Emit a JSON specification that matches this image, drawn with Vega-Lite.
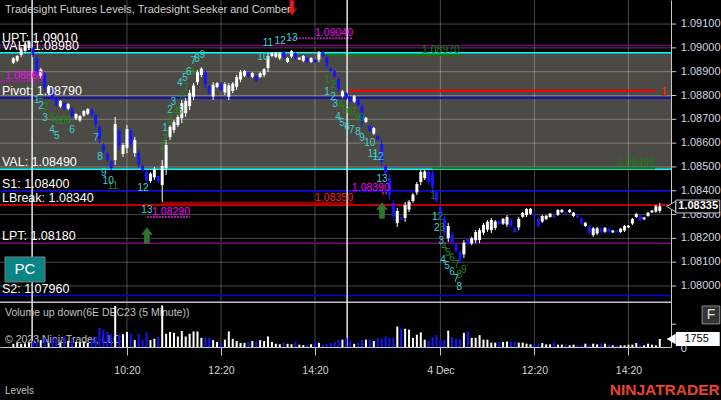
{
"$schema": "https://vega.github.io/schema/vega-lite/v6.json",
"width": 671, "height": 347,
"autosize": {"type": "none"},
"padding": {"left": 0, "top": 0, "right": 50, "bottom": 53},
"background": "#000000",
"config": {"view": {"stroke": null}, "font": "Liberation Sans", "axis": {"grid": false}},
"datasets": {
"va": [{"hi": 1.0898, "lo": 1.0849}],
"vgrid": [{"i": 32}, {"i": 56}, {"i": 80}, {"i": 112}, {"i": 136}, {"i": 160}],
"hgrid": [{"p": 1.08}, {"p": 1.081}, {"p": 1.082}, {"p": 1.083}, {"p": 1.084}, {"p": 1.085}, {"p": 1.086}, {"p": 1.087}, {"p": 1.088}, {"p": 1.089}, {"p": 1.09}, {"p": 1.091}],
"vlines": [{"i": 7.8}, {"i": 88.2}],
"levels": [
{"n": "UPT", "p": 1.0901, "t": "UPT: 1.09010"},
{"n": "VAH", "p": 1.0898, "t": "VAH: 1.08980"},
{"n": "Pivot", "p": 1.0879, "t": "Pivot: 1.08790"},
{"n": "VAL", "p": 1.0849, "t": "VAL: 1.08490"},
{"n": "S1", "p": 1.084, "t": "S1: 1.08400"},
{"n": "LBreak", "p": 1.0834, "t": "LBreak: 1.08340"},
{"n": "LPT", "p": 1.0818, "t": "LPT: 1.08180"},
{"n": "S2", "p": 1.0796, "t": "S2: 1.07960"}],
"segs": [
{"k": "red", "x1": 88.7, "x2": 166.8, "p": 1.0882, "t": ""},
{"k": "dred", "x1": 41, "x2": 89.7, "p": 1.0835, "t": "1.08350"},
{"k": "green", "x1": 82, "x2": 117, "p": 1.0897, "t": "1.08970"},
{"k": "green", "x1": 109.9, "x2": 166.8, "p": 1.08495, "t": "1.08495"},
{"k": "mag", "x1": 37.1, "x2": 48.1, "p": 1.0829, "t": "1.08290"},
{"k": "mag", "x1": 73.6, "x2": 89.7, "p": 1.0904, "t": "1.09040"},
{"k": "mag", "x1": 97.1, "x2": 99.1, "p": 1.0839, "t": "1.08390"},
{"k": "mag", "x1": -0.4, "x2": 10.6, "p": 1.0886, "t": "1.08860"}],
"cnt": [
{"i":9.8,"p":1.08798,"t":"1","k":"g"},{"i":11.3,"p":1.08752,"t":"2","k":"g"},{"i":13.1,"p":1.08705,"t":"5","k":"g"},{"i":14.4,"p":1.08693,"t":"6","k":"g"},{"i":15.7,"p":1.08693,"t":"8","k":"g"},{"i":17.0,"p":1.08697,"t":"9","k":"g"},{"i":28.4,"p":1.0842,"t":"11","k":"g"},
{"i":41.0,"p":1.08584,"t":"1","k":"g"},{"i":41.7,"p":1.08617,"t":"2","k":"g"},{"i":43.0,"p":1.08697,"t":"3","k":"g"},{"i":44.5,"p":1.08731,"t":"4","k":"g"},{"i":45.5,"p":1.08735,"t":"5","k":"g"},{"i":46.1,"p":1.08794,"t":"6","k":"g"},{"i":47.1,"p":1.08831,"t":"7","k":"g"},{"i":48.6,"p":1.08898,"t":"8","k":"g"},
{"i":83.1,"p":1.08865,"t":"1","k":"g"},{"i":84.6,"p":1.08844,"t":"2","k":"g"},{"i":86.6,"p":1.0876,"t":"4","k":"g"},{"i":87.7,"p":1.08739,"t":"5","k":"g"},{"i":88.9,"p":1.08731,"t":"6","k":"g"},{"i":89.9,"p":1.08731,"t":"7","k":"g"},{"i":90.9,"p":1.08705,"t":"8","k":"g"},{"i":91.9,"p":1.08705,"t":"9","k":"g"},
{"i":110.1,"p":1.08378,"t":"1","k":"g"},{"i":111.9,"p":1.0829,"t":"2","k":"g"},{"i":112.4,"p":1.08244,"t":"3","k":"g"},{"i":112.9,"p":1.08164,"t":"4","k":"g"},{"i":113.9,"p":1.08139,"t":"5","k":"g"},{"i":115.0,"p":1.08118,"t":"6","k":"g"},{"i":116.2,"p":1.08088,"t":"7","k":"g"},{"i":116.8,"p":1.08046,"t":"8","k":"g"},{"i":118.0,"p":1.08067,"t":"9","k":"g"},
{"i":9.0,"p":1.08781,"t":"1","k":"s"},{"i":10.1,"p":1.08756,"t":"2","k":"s"},{"i":11.1,"p":1.08705,"t":"3","k":"s"},{"i":12.9,"p":1.08655,"t":"4","k":"s"},{"i":14.1,"p":1.0863,"t":"5","k":"s"},{"i":18.0,"p":1.08655,"t":"6","k":"s"},{"i":24.1,"p":1.08621,"t":"7","k":"s"},{"i":25.1,"p":1.08542,"t":"8","k":"s"},{"i":26.1,"p":1.08474,"t":"9","k":"s"},{"i":27.2,"p":1.08441,"t":"10","k":"s"},{"i":36.1,"p":1.08411,"t":"12","k":"s"},{"i":37.1,"p":1.08319,"t":"13","k":"s"},
{"i":41.7,"p":1.08663,"t":"1","k":"s"},{"i":43.0,"p":1.08739,"t":"2","k":"s"},{"i":43.8,"p":1.08772,"t":"3","k":"s"},{"i":45.5,"p":1.08852,"t":"4","k":"s"},{"i":46.8,"p":1.08873,"t":"5","k":"s"},{"i":47.8,"p":1.08898,"t":"6","k":"s"},{"i":48.9,"p":1.08945,"t":"7","k":"s"},{"i":49.9,"p":1.08953,"t":"8","k":"s"},{"i":51.2,"p":1.0897,"t":"9","k":"s"},{"i":66.7,"p":1.08961,"t":"10","k":"s"},{"i":68.0,"p":1.0902,"t":"11","k":"s"},{"i":71.1,"p":1.09029,"t":"12","k":"s"},{"i":74.1,"p":1.09041,"t":"13","k":"s"},
{"i":83.1,"p":1.08814,"t":"1","k":"s"},{"i":84.6,"p":1.08793,"t":"2","k":"s"},{"i":85.1,"p":1.08764,"t":"3","k":"s"},{"i":85.9,"p":1.0871,"t":"4","k":"s"},{"i":86.9,"p":1.08684,"t":"5","k":"s"},{"i":88.2,"p":1.08668,"t":"6","k":"s"},{"i":89.4,"p":1.08655,"t":"7","k":"s"},{"i":91.0,"p":1.08647,"t":"8","k":"s"},{"i":92.0,"p":1.08621,"t":"9","k":"s"},{"i":94.0,"p":1.086,"t":"10","k":"s"},{"i":94.8,"p":1.08554,"t":"11","k":"s"},{"i":96.1,"p":1.08542,"t":"12","k":"s"},{"i":97.1,"p":1.08449,"t":"13","k":"s"},
{"i":110.6,"p":1.0829,"t":"1","k":"s"},{"i":111.1,"p":1.08244,"t":"2","k":"s"},{"i":112.2,"p":1.08189,"t":"3","k":"s"},{"i":112.7,"p":1.08109,"t":"4","k":"s"},{"i":113.7,"p":1.08084,"t":"5","k":"s"},{"i":115.0,"p":1.08059,"t":"6","k":"s"},{"i":116.0,"p":1.08029,"t":"7","k":"s"},{"i":116.8,"p":1.07996,"t":"8","k":"s"}],
"bars": [
{"i":3,"o":1.08938,"h":1.08961,"l":1.08932,"c":1.08957,"v":700,"d":"u"},
{"i":4,"o":1.08946,"h":1.0897,"l":1.0894,"c":1.08966,"v":900,"d":"u"},
{"i":5,"o":1.0897,"h":1.09003,"l":1.08961,"c":1.08997,"v":700,"d":"u"},
{"i":6,"o":1.08987,"h":1.0902,"l":1.08978,"c":1.09014,"v":800,"d":"u"},
{"i":7,"o":1.08999,"h":1.09033,"l":1.08991,"c":1.09027,"v":900,"d":"u"},
{"i":8,"o":1.08997,"h":1.09003,"l":1.08961,"c":1.0897,"v":1300,"d":"d"},
{"i":9,"o":1.08957,"h":1.0897,"l":1.08886,"c":1.08898,"v":1100,"d":"d"},
{"i":10,"o":1.08882,"h":1.08915,"l":1.08873,"c":1.08909,"v":1500,"d":"u"},
{"i":11,"o":1.0889,"h":1.08898,"l":1.08814,"c":1.08831,"v":2000,"d":"d"},
{"i":12,"o":1.0881,"h":1.08844,"l":1.08802,"c":1.08838,"v":900,"d":"u"},
{"i":13,"o":1.08823,"h":1.08831,"l":1.08781,"c":1.08789,"v":2200,"d":"d"},
{"i":14,"o":1.08787,"h":1.08793,"l":1.08752,"c":1.0876,"v":1800,"d":"d"},
{"i":15,"o":1.08754,"h":1.08781,"l":1.08747,"c":1.08777,"v":1000,"d":"u"},
{"i":16,"o":1.08768,"h":1.08772,"l":1.08739,"c":1.08745,"v":2300,"d":"d"},
{"i":17,"o":1.08745,"h":1.08768,"l":1.08739,"c":1.08764,"v":1300,"d":"u"},
{"i":18,"o":1.08745,"h":1.08752,"l":1.08705,"c":1.08714,"v":1900,"d":"d"},
{"i":19,"o":1.08703,"h":1.08726,"l":1.08697,"c":1.08722,"v":1100,"d":"u"},
{"i":20,"o":1.08695,"h":1.08718,"l":1.08689,"c":1.08714,"v":1000,"d":"u"},
{"i":21,"o":1.08716,"h":1.08739,"l":1.0871,"c":1.08735,"v":1200,"d":"u"},
{"i":22,"o":1.08724,"h":1.08747,"l":1.08718,"c":1.08743,"v":900,"d":"u"},
{"i":23,"o":1.08741,"h":1.08747,"l":1.0871,"c":1.08718,"v":1600,"d":"d"},
{"i":24,"o":1.08718,"h":1.08726,"l":1.08668,"c":1.0868,"v":2200,"d":"d"},
{"i":25,"o":1.08668,"h":1.08676,"l":1.086,"c":1.08617,"v":4200,"d":"d"},
{"i":26,"o":1.08594,"h":1.086,"l":1.08558,"c":1.08567,"v":3700,"d":"d"},
{"i":27,"o":1.08556,"h":1.08563,"l":1.08521,"c":1.08529,"v":3300,"d":"d"},
{"i":28,"o":1.08523,"h":1.08529,"l":1.08487,"c":1.08495,"v":2800,"d":"d"},
{"i":29,"o":1.08529,"h":1.0871,"l":1.08508,"c":1.0868,"v":9000,"d":"u"},
{"i":30,"o":1.08651,"h":1.08663,"l":1.08571,"c":1.08588,"v":2800,"d":"d"},
{"i":31,"o":1.08554,"h":1.086,"l":1.08542,"c":1.08592,"v":2800,"d":"u"},
{"i":32,"o":1.08579,"h":1.08676,"l":1.08558,"c":1.08659,"v":3300,"d":"u"},
{"i":33,"o":1.08651,"h":1.08663,"l":1.08579,"c":1.08596,"v":2900,"d":"d"},
{"i":34,"o":1.08558,"h":1.08626,"l":1.08542,"c":1.08613,"v":1500,"d":"u"},
{"i":35,"o":1.0856,"h":1.08571,"l":1.08495,"c":1.08511,"v":2900,"d":"d"},
{"i":36,"o":1.08504,"h":1.08508,"l":1.08479,"c":1.08485,"v":1600,"d":"d"},
{"i":37,"o":1.08479,"h":1.08487,"l":1.08432,"c":1.08443,"v":3300,"d":"d"},
{"i":38,"o":1.08441,"h":1.08479,"l":1.08432,"c":1.08472,"v":1500,"d":"u"},
{"i":39,"o":1.08456,"h":1.085,"l":1.08445,"c":1.08491,"v":1800,"d":"u"},
{"i":40,"o":1.08462,"h":1.08466,"l":1.08432,"c":1.08439,"v":2200,"d":"d"},
{"i":41,"o":1.08424,"h":1.08529,"l":1.08353,"c":1.08504,"v":9100,"d":"u"},
{"i":42,"o":1.08495,"h":1.08613,"l":1.08466,"c":1.08592,"v":2900,"d":"u"},
{"i":43,"o":1.08626,"h":1.08676,"l":1.08613,"c":1.08668,"v":3300,"d":"u"},
{"i":44,"o":1.08655,"h":1.08697,"l":1.08642,"c":1.08689,"v":3100,"d":"u"},
{"i":45,"o":1.08676,"h":1.08718,"l":1.08668,"c":1.0871,"v":2300,"d":"u"},
{"i":46,"o":1.08705,"h":1.08781,"l":1.08684,"c":1.08768,"v":3500,"d":"u"},
{"i":47,"o":1.08726,"h":1.08789,"l":1.0871,"c":1.08777,"v":2300,"d":"u"},
{"i":48,"o":1.08756,"h":1.08823,"l":1.08739,"c":1.0881,"v":2900,"d":"u"},
{"i":49,"o":1.08795,"h":1.08852,"l":1.08781,"c":1.08842,"v":3400,"d":"u"},
{"i":50,"o":1.08856,"h":1.08907,"l":1.08844,"c":1.08898,"v":3400,"d":"u"},
{"i":51,"o":1.08886,"h":1.08919,"l":1.08877,"c":1.08913,"v":2000,"d":"u"},
{"i":52,"o":1.08896,"h":1.08907,"l":1.08831,"c":1.08847,"v":2000,"d":"d"},
{"i":53,"o":1.08838,"h":1.08844,"l":1.08802,"c":1.0881,"v":2000,"d":"d"},
{"i":54,"o":1.08796,"h":1.08856,"l":1.08781,"c":1.08845,"v":1500,"d":"u"},
{"i":55,"o":1.08836,"h":1.08856,"l":1.08831,"c":1.08852,"v":1100,"d":"u"},
{"i":56,"o":1.0885,"h":1.08856,"l":1.08814,"c":1.08823,"v":1100,"d":"d"},
{"i":57,"o":1.08813,"h":1.08856,"l":1.08802,"c":1.08848,"v":1600,"d":"u"},
{"i":58,"o":1.08795,"h":1.08852,"l":1.08781,"c":1.08842,"v":3400,"d":"u"},
{"i":59,"o":1.08819,"h":1.08856,"l":1.0881,"c":1.0885,"v":1800,"d":"u"},
{"i":60,"o":1.08836,"h":1.08886,"l":1.08823,"c":1.08877,"v":1300,"d":"u"},
{"i":61,"o":1.08867,"h":1.08907,"l":1.08856,"c":1.08898,"v":900,"d":"u"},
{"i":62,"o":1.08883,"h":1.08907,"l":1.08877,"c":1.08903,"v":900,"d":"u"},
{"i":63,"o":1.08895,"h":1.08898,"l":1.08877,"c":1.08882,"v":1100,"d":"d"},
{"i":64,"o":1.08878,"h":1.08898,"l":1.08873,"c":1.08894,"v":1300,"d":"u"},
{"i":65,"o":1.08882,"h":1.08886,"l":1.08856,"c":1.08862,"v":1100,"d":"d"},
{"i":66,"o":1.08878,"h":1.08898,"l":1.08873,"c":1.08894,"v":1500,"d":"u"},
{"i":67,"o":1.08886,"h":1.08915,"l":1.08877,"c":1.0891,"v":1300,"d":"u"},
{"i":68,"o":1.08915,"h":1.08978,"l":1.08898,"c":1.08966,"v":2300,"d":"u"},
{"i":69,"o":1.08966,"h":1.08982,"l":1.08961,"c":1.08979,"v":1100,"d":"u"},
{"i":70,"o":1.08962,"h":1.08982,"l":1.08957,"c":1.08978,"v":700,"d":"u"},
{"i":71,"o":1.08956,"h":1.08982,"l":1.08949,"c":1.08977,"v":600,"d":"u"},
{"i":72,"o":1.08982,"h":1.08987,"l":1.08957,"c":1.08963,"v":900,"d":"d"},
{"i":73,"o":1.08941,"h":1.08961,"l":1.08936,"c":1.08957,"v":700,"d":"u"},
{"i":74,"o":1.08964,"h":1.08991,"l":1.08957,"c":1.08986,"v":600,"d":"u"},
{"i":75,"o":1.08977,"h":1.08982,"l":1.08949,"c":1.08956,"v":1100,"d":"d"},
{"i":76,"o":1.08951,"h":1.08961,"l":1.08949,"c":1.08959,"v":500,"d":"u"},
{"i":77,"o":1.08946,"h":1.0897,"l":1.0894,"c":1.08966,"v":400,"d":"u"},
{"i":78,"o":1.08957,"h":1.08961,"l":1.08936,"c":1.08941,"v":400,"d":"d"},
{"i":79,"o":1.08941,"h":1.08961,"l":1.08936,"c":1.08957,"v":600,"d":"u"},
{"i":80,"o":1.0895,"h":1.08953,"l":1.08936,"c":1.08939,"v":900,"d":"d"},
{"i":81,"o":1.0895,"h":1.08987,"l":1.0894,"c":1.08982,"v":900,"d":"u"},
{"i":82,"o":1.08982,"h":1.08987,"l":1.08961,"c":1.08966,"v":500,"d":"d"},
{"i":83,"o":1.08961,"h":1.0897,"l":1.08915,"c":1.08926,"v":700,"d":"d"},
{"i":84,"o":1.08915,"h":1.08919,"l":1.08898,"c":1.08902,"v":900,"d":"d"},
{"i":85,"o":1.08902,"h":1.08907,"l":1.08873,"c":1.0888,"v":1100,"d":"d"},
{"i":86,"o":1.08869,"h":1.08877,"l":1.08814,"c":1.08827,"v":1600,"d":"d"},
{"i":87,"o":1.08796,"h":1.08823,"l":1.08789,"c":1.08818,"v":1600,"d":"u"},
{"i":88,"o":1.08809,"h":1.08814,"l":1.08781,"c":1.08788,"v":2000,"d":"d"},
{"i":89,"o":1.08789,"h":1.08793,"l":1.08772,"c":1.08776,"v":1300,"d":"d"},
{"i":90,"o":1.08775,"h":1.08802,"l":1.08768,"c":1.08797,"v":700,"d":"u"},
{"i":91,"o":1.08784,"h":1.08789,"l":1.08752,"c":1.08759,"v":900,"d":"d"},
{"i":92,"o":1.08753,"h":1.08768,"l":1.08668,"c":1.08688,"v":1500,"d":"d"},
{"i":93,"o":1.08689,"h":1.0871,"l":1.08684,"c":1.08706,"v":1600,"d":"u"},
{"i":94,"o":1.08672,"h":1.08676,"l":1.08647,"c":1.08653,"v":1500,"d":"d"},
{"i":95,"o":1.0864,"h":1.08668,"l":1.08634,"c":1.08663,"v":1300,"d":"u"},
{"i":96,"o":1.0863,"h":1.08634,"l":1.08613,"c":1.08617,"v":2000,"d":"d"},
{"i":97,"o":1.08596,"h":1.08613,"l":1.085,"c":1.08522,"v":1800,"d":"d"},
{"i":98,"o":1.08502,"h":1.08508,"l":1.08466,"c":1.08474,"v":2300,"d":"d"},
{"i":99,"o":1.08453,"h":1.0847,"l":1.08361,"c":1.08383,"v":2000,"d":"d"},
{"i":100,"o":1.08349,"h":1.08361,"l":1.08277,"c":1.08294,"v":2000,"d":"d"},
{"i":101,"o":1.08264,"h":1.08328,"l":1.08248,"c":1.08315,"v":4500,"d":"u"},
{"i":102,"o":1.08288,"h":1.0829,"l":1.08277,"c":1.0828,"v":4000,"d":"d"},
{"i":103,"o":1.08286,"h":1.08353,"l":1.08269,"c":1.0834,"v":4000,"d":"u"},
{"i":104,"o":1.08321,"h":1.08361,"l":1.08311,"c":1.08354,"v":3800,"d":"u"},
{"i":105,"o":1.08357,"h":1.08391,"l":1.08349,"c":1.08384,"v":2000,"d":"u"},
{"i":106,"o":1.08393,"h":1.08437,"l":1.08382,"c":1.08428,"v":2700,"d":"u"},
{"i":107,"o":1.08437,"h":1.08487,"l":1.08424,"c":1.08479,"v":3200,"d":"u"},
{"i":108,"o":1.08453,"h":1.08487,"l":1.08445,"c":1.08481,"v":1600,"d":"u"},
{"i":109,"o":1.08479,"h":1.08487,"l":1.08424,"c":1.08437,"v":1500,"d":"d"},
{"i":110,"o":1.08474,"h":1.08487,"l":1.08395,"c":1.08413,"v":2200,"d":"d"},
{"i":111,"o":1.08395,"h":1.08403,"l":1.08349,"c":1.08359,"v":2600,"d":"d"},
{"i":112,"o":1.08332,"h":1.0834,"l":1.08277,"c":1.0829,"v":1500,"d":"d"},
{"i":113,"o":1.08284,"h":1.08298,"l":1.08206,"c":1.08224,"v":1600,"d":"d"},
{"i":114,"o":1.08201,"h":1.08265,"l":1.08185,"c":1.08252,"v":3600,"d":"u"},
{"i":115,"o":1.08218,"h":1.08227,"l":1.08172,"c":1.08183,"v":2200,"d":"d"},
{"i":116,"o":1.08174,"h":1.08181,"l":1.08139,"c":1.08147,"v":1800,"d":"d"},
{"i":117,"o":1.08143,"h":1.08151,"l":1.08097,"c":1.08107,"v":1700,"d":"d"},
{"i":118,"o":1.08133,"h":1.08193,"l":1.08118,"c":1.08182,"v":3100,"d":"u"},
{"i":119,"o":1.08198,"h":1.08202,"l":1.08172,"c":1.08177,"v":3400,"d":"d"},
{"i":120,"o":1.08179,"h":1.08206,"l":1.08172,"c":1.08201,"v":2000,"d":"u"},
{"i":121,"o":1.08192,"h":1.08235,"l":1.08181,"c":1.08227,"v":2000,"d":"u"},
{"i":122,"o":1.08193,"h":1.08244,"l":1.08181,"c":1.08235,"v":2600,"d":"u"},
{"i":123,"o":1.08224,"h":1.08265,"l":1.08214,"c":1.08257,"v":1600,"d":"u"},
{"i":124,"o":1.08237,"h":1.08277,"l":1.08227,"c":1.0827,"v":1600,"d":"u"},
{"i":125,"o":1.08235,"h":1.08286,"l":1.08223,"c":1.08277,"v":950,"d":"u"},
{"i":126,"o":1.08244,"h":1.08277,"l":1.08235,"c":1.08271,"v":950,"d":"u"},
{"i":127,"o":1.08274,"h":1.08277,"l":1.08256,"c":1.0826,"v":1100,"d":"d"},
{"i":128,"o":1.08262,"h":1.08286,"l":1.08256,"c":1.08282,"v":1100,"d":"u"},
{"i":129,"o":1.08258,"h":1.08298,"l":1.08248,"c":1.0829,"v":1200,"d":"u"},
{"i":130,"o":1.0828,"h":1.08286,"l":1.08244,"c":1.08252,"v":1100,"d":"d"},
{"i":131,"o":1.08244,"h":1.08248,"l":1.08223,"c":1.08227,"v":1100,"d":"d"},
{"i":132,"o":1.08246,"h":1.0829,"l":1.08235,"c":1.08282,"v":950,"d":"u"},
{"i":133,"o":1.08291,"h":1.08311,"l":1.08286,"c":1.08307,"v":950,"d":"u"},
{"i":134,"o":1.08298,"h":1.08328,"l":1.0829,"c":1.08323,"v":730,"d":"u"},
{"i":135,"o":1.08304,"h":1.08328,"l":1.08298,"c":1.08324,"v":580,"d":"u"},
{"i":136,"o":1.08304,"h":1.08307,"l":1.0829,"c":1.08293,"v":730,"d":"d"},
{"i":137,"o":1.08283,"h":1.0829,"l":1.08244,"c":1.08253,"v":730,"d":"d"},
{"i":138,"o":1.08271,"h":1.08298,"l":1.08265,"c":1.08294,"v":880,"d":"u"},
{"i":139,"o":1.08281,"h":1.08298,"l":1.08277,"c":1.08295,"v":580,"d":"u"},
{"i":140,"o":1.0829,"h":1.08307,"l":1.08286,"c":1.08304,"v":580,"d":"u"},
{"i":141,"o":1.08296,"h":1.08298,"l":1.08286,"c":1.08288,"v":950,"d":"d"},
{"i":142,"o":1.08299,"h":1.08323,"l":1.08294,"c":1.08319,"v":510,"d":"u"},
{"i":143,"o":1.0831,"h":1.08323,"l":1.08307,"c":1.0832,"v":510,"d":"u"},
{"i":144,"o":1.0831,"h":1.08311,"l":1.08302,"c":1.08304,"v":510,"d":"d"},
{"i":145,"o":1.0831,"h":1.08323,"l":1.08307,"c":1.0832,"v":370,"d":"u"},
{"i":146,"o":1.08294,"h":1.08311,"l":1.0829,"c":1.08308,"v":510,"d":"u"},
{"i":147,"o":1.08296,"h":1.08298,"l":1.08286,"c":1.08288,"v":370,"d":"d"},
{"i":148,"o":1.08285,"h":1.0829,"l":1.08256,"c":1.08263,"v":370,"d":"d"},
{"i":149,"o":1.08252,"h":1.08269,"l":1.08248,"c":1.08266,"v":730,"d":"u"},
{"i":150,"o":1.0825,"h":1.08256,"l":1.08214,"c":1.08223,"v":510,"d":"d"},
{"i":151,"o":1.08214,"h":1.08248,"l":1.08206,"c":1.08242,"v":730,"d":"u"},
{"i":152,"o":1.08221,"h":1.08248,"l":1.08214,"c":1.08243,"v":580,"d":"u"},
{"i":153,"o":1.0824,"h":1.08244,"l":1.08223,"c":1.08227,"v":730,"d":"d"},
{"i":154,"o":1.08228,"h":1.08248,"l":1.08223,"c":1.08244,"v":730,"d":"u"},
{"i":155,"o":1.0824,"h":1.08244,"l":1.08223,"c":1.08227,"v":510,"d":"d"},
{"i":156,"o":1.08225,"h":1.08235,"l":1.08223,"c":1.08233,"v":370,"d":"u"},
{"i":157,"o":1.08233,"h":1.08235,"l":1.08223,"c":1.08225,"v":370,"d":"d"},
{"i":158,"o":1.08227,"h":1.08244,"l":1.08223,"c":1.08241,"v":370,"d":"u"},
{"i":159,"o":1.08233,"h":1.08256,"l":1.08227,"c":1.08252,"v":370,"d":"u"},
{"i":160,"o":1.08246,"h":1.08256,"l":1.08244,"c":1.08254,"v":510,"d":"u"},
{"i":161,"o":1.08262,"h":1.08286,"l":1.08256,"c":1.08281,"v":510,"d":"u"},
{"i":162,"o":1.0829,"h":1.08307,"l":1.08286,"c":1.08303,"v":880,"d":"u"},
{"i":163,"o":1.08297,"h":1.08302,"l":1.08269,"c":1.08275,"v":580,"d":"d"},
{"i":164,"o":1.0828,"h":1.0829,"l":1.08277,"c":1.08288,"v":370,"d":"u"},
{"i":165,"o":1.08294,"h":1.08311,"l":1.0829,"c":1.08308,"v":730,"d":"u"},
{"i":166,"o":1.08309,"h":1.08319,"l":1.08307,"c":1.08317,"v":510,"d":"u"},
{"i":167,"o":1.08313,"h":1.0834,"l":1.08307,"c":1.08335,"v":370,"d":"u"},
{"i":168,"o":1.08315,"h":1.08349,"l":1.08307,"c":1.08335,"v":1755,"d":"u"}]
},
"layer": [
{
"layer": [
{"data": {"name": "va"}, "mark": {"type": "rect", "color": "#4b4a45"},
 "encoding": {"x": {"datum": -0.4, "type": "quantitative"}, "x2": {"datum": 170.86}, "y": {"field": "hi", "type": "quantitative", "title": null}, "y2": {"field": "lo"}}},
{"data": {"name": "vgrid"}, "mark": {"type": "rule", "color": "#ffffff", "opacity": 0.28, "strokeWidth": 1},
 "encoding": {"x": {"field": "i", "type": "quantitative", "title": null}}},
{"data": {"name": "hgrid"}, "mark": {"type": "rule", "color": "#ffffff", "opacity": 0.28, "strokeWidth": 1},
 "encoding": {"y": {"field": "p", "type": "quantitative", "title": null}}},
{"data": {"name": "hgrid"}, "mark": {"type": "rule", "color": "#c8c8c8", "strokeWidth": 1},
 "encoding": {"x": {"datum": 170.9, "type": "quantitative"}, "x2": {"datum": 172.2}, "y": {"field": "p", "type": "quantitative", "title": null}}},
{"data": {"name": "hgrid"}, "mark": {"type": "text", "align": "left", "baseline": "middle", "fontSize": 11, "color": "#d0d6e2"},
 "encoding": {"x": {"datum": 173.35, "type": "quantitative"}, "y": {"field": "p", "type": "quantitative", "title": null}, "text": {"field": "p", "type": "quantitative", "format": ".5f"}}},
{"data": {"values": [{}]}, "mark": {"type": "rule", "color": "#c0c0c0", "strokeWidth": 1.5},
 "encoding": {"y": {"datum": 1.07932, "type": "quantitative"}}},
{"data": {"name": "levels"}, "mark": {"type": "rule", "strokeWidth": 1.5},
 "encoding": {"y": {"field": "p", "type": "quantitative", "title": null},
  "color": {"field": "n", "type": "nominal", "legend": null, "scale": {"domain": ["UPT","VAH","Pivot","VAL","S1","LBreak","LPT","S2"], "range": ["#800080","#00ffff","#0000e0","#00ffff","#0a0aff","#ff0000","#800080","#0000e0"]}}}},
{"data": {"name": "segs"}, "mark": {"type": "rule", "strokeWidth": 2},
 "encoding": {"x": {"field": "x1", "type": "quantitative", "title": null}, "x2": {"field": "x2"}, "y": {"field": "p", "type": "quantitative", "title": null},
  "color": {"field": "k", "type": "nominal", "legend": null, "scale": {"domain": ["red","dred","green","mag"], "range": ["#ff0000","#a00000","#137a13","#a020a0"]}},
  "strokeDash": {"field": "k", "type": "nominal", "legend": null, "scale": {"domain": ["red","dred","green","mag"], "range": [[1,0],[1,0],[1,0],[2,1]]}}}},
{"data": {"name": "vlines"}, "mark": {"type": "rule", "color": "#e8e8e8", "strokeWidth": 1.5},
 "encoding": {"x": {"field": "i", "type": "quantitative", "title": null}}},
{"data": {"name": "bars"}, "mark": {"type": "rule", "strokeWidth": 1},
 "encoding": {
  "x": {"field": "i", "type": "quantitative", "title": null, "scale": {"domain": [-0.4, 170.86], "nice": false, "zero": false, "padding": 0},
   "axis": {"values": [32,56,80,112,136,160], "labelExpr": "datum.value==32?'10:20':datum.value==56?'12:20':datum.value==80?'14:20':datum.value==112?'4 Dec':datum.value==136?'12:20':'14:20'", "grid": false, "domain": true, "domainColor": "#c8c8c8", "ticks": true, "tickColor": "#c8c8c8", "tickSize": 8, "labelColor": "#d4d4d4", "labelFontSize": 10.5, "labelPadding": 10, "labelOverlap": false, "labelFlush": false, "title": null}},
  "y": {"field": "l", "type": "quantitative", "title": null, "scale": {"domain": [1.07744, 1.09201], "nice": false, "zero": false},
   "axis": {"orient": "right", "labels": false, "ticks": false, "grid": false, "domain": true, "domainColor": "#c8c8c8", "title": null}},
  "y2": {"field": "h"},
  "color": {"field": "d", "type": "nominal", "legend": null, "scale": {"domain": ["u","d"], "range": ["#ffffff","#1414ff"]}}}},
{"data": {"name": "bars"}, "mark": {"type": "rule", "strokeWidth": 3},
 "encoding": {"x": {"field": "i", "type": "quantitative", "title": null}, "y": {"field": "o", "type": "quantitative", "title": null}, "y2": {"field": "c"},
  "color": {"field": "d", "type": "nominal", "legend": null, "scale": {"domain": ["u","d"], "range": ["#ffffff","#1414ff"]}}}},
{"data": {"name": "cnt"}, "mark": {"type": "text", "fontSize": 10, "baseline": "middle", "align": "center"},
 "encoding": {"x": {"field": "i", "type": "quantitative", "title": null}, "y": {"field": "p", "type": "quantitative", "title": null}, "text": {"field": "t"},
  "color": {"field": "k", "type": "nominal", "legend": null, "scale": {"domain": ["s","g"], "range": ["#3ad4d4","#1c8a1c"]}}}},
{"data": {"name": "levels"}, "mark": {"type": "text", "align": "left", "baseline": "alphabetic", "dy": -3, "fontSize": 12.5, "color": "#ffffff"},
 "encoding": {"x": {"datum": 0.1, "type": "quantitative"}, "y": {"field": "p", "type": "quantitative", "title": null}, "text": {"field": "t"}}},
{"data": {"name": "segs"}, "mark": {"type": "text", "align": "right", "baseline": "bottom", "fontSize": 10.5},
 "encoding": {"x": {"field": "x2", "type": "quantitative", "title": null}, "y": {"field": "p", "type": "quantitative", "title": null}, "text": {"field": "t"},
  "color": {"field": "k", "type": "nominal", "legend": null, "scale": {"domain": ["red","dred","green","mag"], "range": ["#ff2020","#ff2020","#108010","#ff00ff"]}}}},
{"data": {"values": [{}]}, "mark": {"type": "text", "text": "1", "fontSize": 13, "color": "#ff2a10", "align": "center", "baseline": "middle"},
 "encoding": {"x": {"datum": 169.1, "type": "quantitative"}, "y": {"datum": 1.08815, "type": "quantitative"}}},
{"data": {"values": [{}]}, "mark": {"type": "point", "filled": true, "shape": "M-0.3,-1L0.3,-1L0.3,0.15L0.65,0.15L0,1L-0.65,0.15L-0.3,0.15Z", "size": 240, "color": "#e01b1b", "stroke": "#5a1010", "strokeWidth": 1, "opacity": 1},
 "encoding": {"x": {"datum": 74.1, "type": "quantitative"}, "y": {"datum": 1.09169, "type": "quantitative"}}},
{"data": {"values": [{}]}, "mark": {"type": "point", "filled": true, "shape": "M-0.3,1L0.3,1L0.3,-0.15L0.65,-0.15L0,-1L-0.65,-0.15L-0.3,-0.15Z", "size": 240, "color": "#1f7f1f", "stroke": "#555555", "strokeWidth": 1, "opacity": 1},
 "encoding": {"x": {"datum": 37.1, "type": "quantitative"}, "y": {"datum": 1.08212, "type": "quantitative"}}},
{"data": {"values": [{}]}, "mark": {"type": "point", "filled": true, "shape": "M-0.3,1L0.3,1L0.3,-0.15L0.65,-0.15L0,-1L-0.65,-0.15L-0.3,-0.15Z", "size": 240, "color": "#1f7f1f", "stroke": "#555555", "strokeWidth": 1, "opacity": 1},
 "encoding": {"x": {"datum": 97.1, "type": "quantitative"}, "y": {"datum": 1.08317, "type": "quantitative"}}},
{"data": {"values": [{}]}, "mark": {"type": "rect", "fill": "#0a8585", "stroke": "#7a7a7a", "strokeWidth": 1},
 "encoding": {"x": {"datum": 0.88, "type": "quantitative"}, "x2": {"datum": 11.09}, "y": {"datum": 1.08122, "type": "quantitative"}, "y2": {"datum": 1.08017}}},
{"data": {"values": [{}]}, "mark": {"type": "text", "text": "PC", "fontSize": 15, "color": "#ffffff", "align": "center", "baseline": "middle"},
 "encoding": {"x": {"datum": 5.98, "type": "quantitative"}, "y": {"datum": 1.0807, "type": "quantitative"}}},
{"data": {"values": [{}]}, "mark": {"type": "rect", "fill": "#333333", "stroke": "#8c8c8c", "strokeWidth": 1},
 "encoding": {"x": {"datum": 178.8, "type": "quantitative"}, "x2": {"datum": 183.3}, "y": {"datum": 1.07916, "type": "quantitative"}, "y2": {"datum": 1.07841}}},
{"data": {"values": [{}]}, "mark": {"type": "text", "text": "F", "fontSize": 14, "color": "#e0e0e0", "align": "center", "baseline": "middle"},
 "encoding": {"x": {"datum": 181.05, "type": "quantitative"}, "y": {"datum": 1.07878, "type": "quantitative"}}},
{"data": {"values": [{}]}, "mark": {"type": "point", "shape": "triangle-left", "filled": true, "size": 110, "color": "#000000", "stroke": "#c8c8c8", "strokeWidth": 1, "opacity": 1},
 "encoding": {"x": {"datum": 170.9, "type": "quantitative"}, "y": {"datum": 1.08334, "type": "quantitative"}}},
{"data": {"values": [{}]}, "mark": {"type": "rect", "fill": "#000000", "stroke": "#c8c8c8", "strokeWidth": 1},
 "encoding": {"x": {"datum": 172.1, "type": "quantitative"}, "x2": {"datum": 183.3}, "y": {"datum": 1.08361, "type": "quantitative"}, "y2": {"datum": 1.08307}}},
{"data": {"values": [{}]}, "mark": {"type": "text", "text": "1.08335", "fontSize": 11, "fontWeight": "bold", "color": "#ffffff", "align": "center", "baseline": "middle"},
 "encoding": {"x": {"datum": 177.8, "type": "quantitative"}, "y": {"datum": 1.08334, "type": "quantitative"}}},
{"data": {"values": [{}]}, "mark": {"type": "text", "text": "0", "fontSize": 11, "color": "#d0d6e2", "align": "left", "baseline": "middle"},
 "encoding": {"x": {"datum": 173.35, "type": "quantitative"}, "y": {"datum": 1.07735, "type": "quantitative"}}},
{"data": {"values": [{}]}, "mark": {"type": "point", "shape": "triangle-left", "filled": true, "size": 110, "color": "#ffffff", "opacity": 1},
 "encoding": {"x": {"datum": 170.9, "type": "quantitative"}, "y": {"datum": 1.07778, "type": "quantitative"}}},
{"data": {"values": [{}]}, "mark": {"type": "rect", "fill": "#ffffff"},
 "encoding": {"x": {"datum": 172.1, "type": "quantitative"}, "x2": {"datum": 183.3}, "y": {"datum": 1.07807, "type": "quantitative"}, "y2": {"datum": 1.07748}}},
{"data": {"values": [{}]}, "mark": {"type": "text", "text": "1755", "fontSize": 11, "color": "#000000", "align": "center", "baseline": "middle"},
 "encoding": {"x": {"datum": 177.4, "type": "quantitative"}, "y": {"datum": 1.07778, "type": "quantitative"}}},
{"data": {"values": [{}]}, "mark": {"type": "text", "text": "Tradesight Futures Levels, Tradesight Seeker and Comber", "fontSize": 11, "color": "#cfcfcf", "align": "left", "baseline": "middle"},
 "encoding": {"x": {"datum": 0.88, "type": "quantitative"}, "y": {"datum": 1.09159, "type": "quantitative"}}},
{"data": {"values": [{}]}, "mark": {"type": "text", "text": "Volume up down(6E DEC23 (5 Minute))", "fontSize": 10.5, "color": "#c0c0c0", "align": "left", "baseline": "middle"},
 "encoding": {"x": {"datum": 0.88, "type": "quantitative"}, "y": {"datum": 1.07887, "type": "quantitative"}}},
{"data": {"values": [{}]}, "mark": {"type": "text", "text": "© 2023 NinjaTrader, LLC", "fontSize": 10.5, "color": "#c0c0c0", "align": "left", "baseline": "middle"},
 "encoding": {"x": {"datum": 0.88, "type": "quantitative"}, "y": {"datum": 1.07773, "type": "quantitative"}}},
{"data": {"values": [{}]}, "mark": {"type": "text", "text": "Levels", "fontSize": 10, "color": "#c0c0c0", "align": "left", "baseline": "middle"},
 "encoding": {"x": {"datum": 0.88, "type": "quantitative"}, "y": {"datum": 1.07559, "type": "quantitative"}}},
{"data": {"values": [{}]}, "mark": {"type": "text", "text": "NINJATRADER", "fontSize": 15.5, "fontWeight": "bold", "color": "#e8452c", "align": "right", "baseline": "middle"},
 "encoding": {"x": {"datum": 183.3, "type": "quantitative"}, "y": {"datum": 1.07563, "type": "quantitative"}}}
],
"resolve": {"scale": {"color": "independent"}}
},
{
"layer": [
{"data": {"name": "bars"}, "mark": {"type": "rule", "strokeWidth": 2},
 "encoding": {"x": {"field": "i", "type": "quantitative", "title": null},
  "y": {"field": "v", "type": "quantitative", "title": null, "scale": {"domain": [0, 76000], "nice": false, "zero": true}, "axis": null},
  "y2": {"datum": 0},
  "color": {"field": "d", "type": "nominal", "legend": null, "scale": {"domain": ["u","d"], "range": ["#ffffff","#1414ff"]}}}},
{"data": {"values": [{}]}, "mark": {"type": "rule", "color": "#c8c8c8", "strokeWidth": 1},
 "encoding": {"x": {"datum": 170.9, "type": "quantitative"}, "x2": {"datum": 172.2}, "y": {"datum": 5000, "type": "quantitative"}}}
]
}
],
"resolve": {"scale": {"y": "independent", "color": "independent"}}
}
